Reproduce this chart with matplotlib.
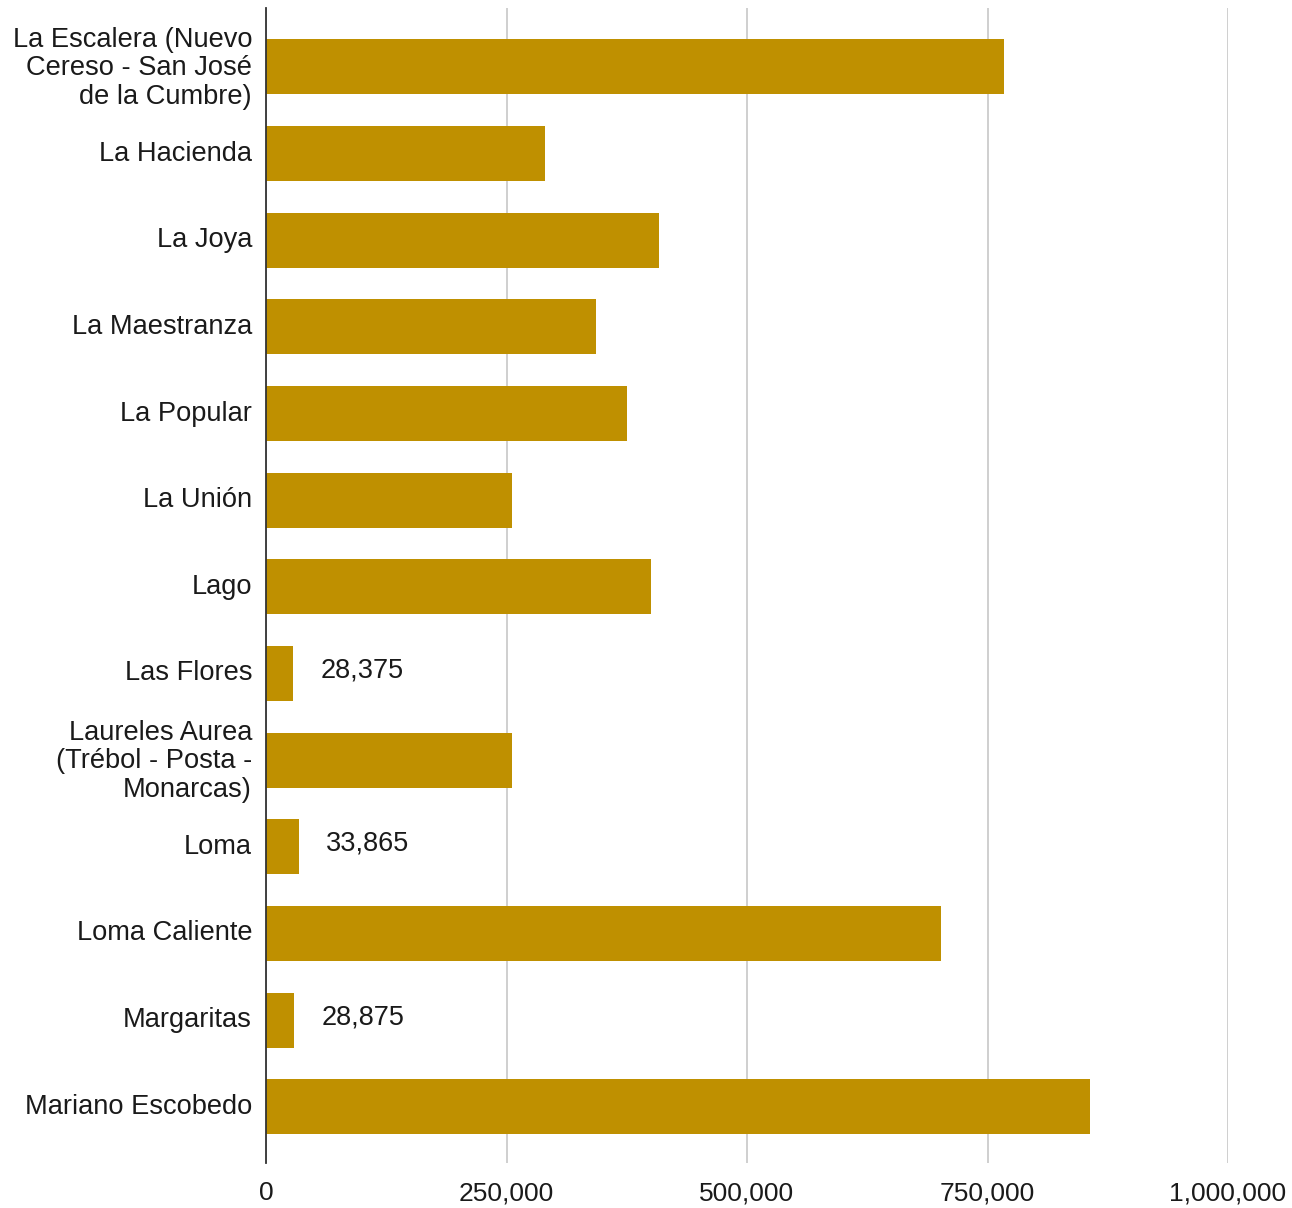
import matplotlib
matplotlib.use("Agg")
import matplotlib.pyplot as plt
import matplotlib.transforms as mtransforms
from matplotlib.ticker import FuncFormatter

categories = [
    "La Escalera (Nuevo\nCereso - San José\nde la Cumbre)",
    "La Hacienda",
    "La Joya",
    "La Maestranza",
    "La Popular",
    "La Unión",
    "Lago",
    "Las Flores",
    "Laureles Aurea\n(Trébol - Posta -\nMonarcas)",
    "Loma",
    "Loma Caliente",
    "Margaritas",
    "Mariano Escobedo",
]
values = [766700, 290400, 408600, 343500, 375700, 255600, 400700,
          28375, 255600, 33865, 701800, 28875, 856900]
labeled = {"Las Flores": "28,375", "Loma": "33,865", "Margaritas": "28,875"}
xticks = [0, 250000, 500000, 750000, 1000000]

plt.rcParams['font.family'] = ['Liberation Sans', 'DejaVu Sans']

W, H = 1292, 1208
fig = plt.figure(figsize=(W / 100, H / 100), dpi=100)
ax = fig.add_axes([266 / W, 1 - 1163 / H, (1228 - 266) / W, (1163 - 8) / H])

y = list(range(len(categories)))
ax.barh(y, values, height=0.635, color="#BF9000", zorder=3)

for i, (c, v) in enumerate(zip(categories, values)):
    if c in labeled:
        ax.annotate(labeled[c], (v, i), xytext=(20, 2), textcoords="offset points",
                    va="center", ha="left", fontsize=19.5, color="#1a1a1a")

ax.set_xlim(0, 1000000)
ax.set_ylim(12.65, -0.68)
ax.set_yticks(y)
ax.set_yticklabels(categories, fontsize=19.6, color="#1a1a1a", linespacing=1.12)
ax.set_xticks(xticks)
ax.xaxis.set_major_formatter(FuncFormatter(lambda v, p: f"{int(v):,}"))
ax.tick_params(axis="x", labelsize=19, labelcolor="#1a1a1a", length=0, pad=13)
ax.tick_params(axis="y", length=0, pad=10)

shift = mtransforms.ScaledTranslation(0, 3 / 100, fig.dpi_scale_trans)
for lab in ax.get_yticklabels():
    lab.set_transform(lab.get_transform() + shift)

ax.grid(axis="x", color="#cccccc", linewidth=1.3, zorder=0)
ax.set_axisbelow(True)
for s in ["top", "right", "bottom"]:
    ax.spines[s].set_visible(False)
ax.spines["left"].set_color("#333333")
ax.spines["left"].set_linewidth(1.3)
ax.spines["left"].set_zorder(4)

fig.savefig("out.png", dpi=100, facecolor="white")
